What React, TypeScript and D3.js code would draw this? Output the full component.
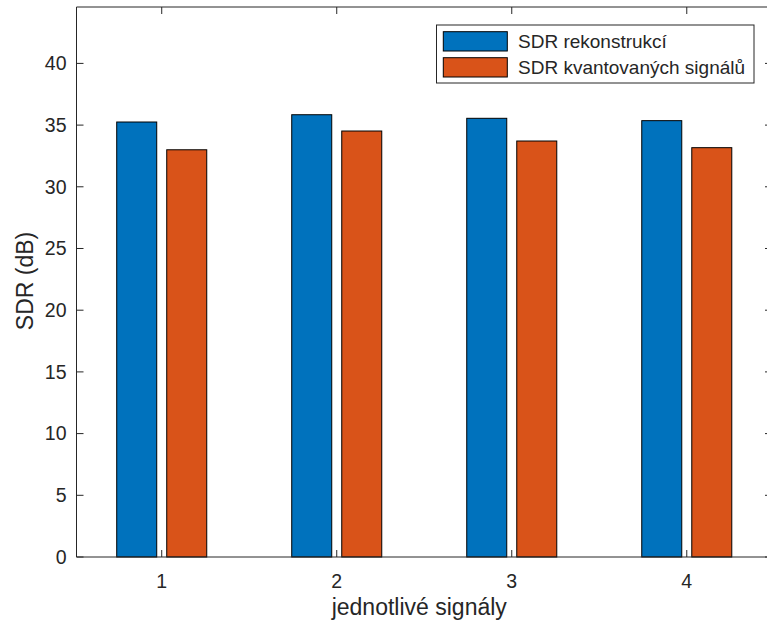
import * as d3 from "d3";
import React, { useRef, useEffect } from "react";

const width = 767;
const height = 628;

// plot box (right edge runs slightly past the picture, as in the source)
const box = { left: 76.5, right: 772, top: 7, bottom: 557 };

const signals = [1, 2, 3, 4];
const seriesNames = ["SDR rekonstrukcí", "SDR kvantovaných signálů"];
const sdrReconstruction = [35.25, 35.84, 35.55, 35.36];
const sdrQuantized = [33.0, 34.52, 33.71, 33.17];
const yTicks = [0, 5, 10, 15, 20, 25, 30, 35, 40];
const colors = ["#0072BD", "#D95319"];

const font = "'Liberation Sans', Arial, Helvetica, sans-serif";
const ink = "#262626";

const App = () => {
  const svgRef = useRef<SVGSVGElement>(null);

  useEffect(() => {
    const svg = d3.select(svgRef.current);
    svg.selectAll("*").remove();

    const x = d3.scaleLinear().domain([0.513, 4.487]).range([box.left, box.right]);
    const y = d3.scaleLinear().domain([0, 44.57]).range([box.bottom, box.top]);

    const barW = 0.2286; // in x units
    const offsets = [-0.1429, 0.1429];
    const series = [sdrReconstruction, sdrQuantized];

    // bars
    const bars = svg.append("g");
    series.forEach((vals, s) => {
      bars
        .selectAll(`.bar-${s}`)
        .data(vals)
        .join("rect")
        .attr("class", `bar-${s}`)
        .attr("x", (_, i) => x(signals[i] + offsets[s] - barW / 2))
        .attr("y", (d) => y(d))
        .attr("width", x(barW) - x(0))
        .attr("height", (d) => y(0) - y(d))
        .attr("fill", colors[s])
        .attr("stroke", "#000")
        .attr("stroke-width", 1);
    });

    // box lines
    const axes = svg.append("g").attr("stroke", ink).attr("fill", "none");
    axes.append("line").attr("x1", box.left).attr("x2", box.right).attr("y1", box.bottom).attr("y2", box.bottom);
    axes.append("line").attr("x1", box.left).attr("x2", box.right).attr("y1", box.top).attr("y2", box.top);
    axes.append("line").attr("x1", box.left).attr("x2", box.left).attr("y1", box.top).attr("y2", box.bottom);
    axes.append("line").attr("x1", box.right).attr("x2", box.right).attr("y1", box.top).attr("y2", box.bottom);

    const tickLen = 7;
    // y ticks (both sides, inward)
    yTicks.forEach((t) => {
      axes.append("line").attr("x1", box.left).attr("x2", box.left + tickLen).attr("y1", y(t)).attr("y2", y(t));
      axes.append("line").attr("x1", box.right).attr("x2", box.right - tickLen).attr("y1", y(t)).attr("y2", y(t));
    });
    // x ticks (top and bottom, inward)
    signals.forEach((t) => {
      axes.append("line").attr("x1", x(t)).attr("x2", x(t)).attr("y1", box.bottom).attr("y2", box.bottom - tickLen);
      axes.append("line").attr("x1", x(t)).attr("x2", x(t)).attr("y1", box.top).attr("y2", box.top + tickLen);
    });

    const labels = svg.append("g").attr("font-family", font).attr("fill", ink);

    labels
      .selectAll(".ytick")
      .data(yTicks)
      .join("text")
      .attr("class", "ytick")
      .attr("x", box.left - 10)
      .attr("y", (d) => y(d))
      .attr("dy", "0.35em")
      .attr("text-anchor", "end")
      .attr("font-size", 19.5)
      .text((d) => d);

    labels
      .selectAll(".xtick")
      .data(signals)
      .join("text")
      .attr("class", "xtick")
      .attr("x", (d) => x(d))
      .attr("y", 588)
      .attr("text-anchor", "middle")
      .attr("font-size", 19.5)
      .text((d) => d);

    labels
      .append("text")
      .attr("x", (box.left + box.right - 10) / 2)
      .attr("y", 615)
      .attr("text-anchor", "middle")
      .attr("font-size", 23)
      .text("jednotlivé signály");

    labels
      .append("text")
      .attr("transform", "translate(33, 281) rotate(-90)")
      .attr("text-anchor", "middle")
      .attr("font-size", 23)
      .text("SDR (dB)");

    // legend
    const legend = svg.append("g").attr("font-family", font);
    legend
      .append("rect")
      .attr("x", 436.5)
      .attr("y", 25)
      .attr("width", 317.5)
      .attr("height", 58)
      .attr("fill", "#fff")
      .attr("stroke", ink);
    seriesNames.forEach((name, s) => {
      const top = 31.7 + s * 26;
      legend
        .append("rect")
        .attr("x", 443.3)
        .attr("y", top)
        .attr("width", 64)
        .attr("height", 19.3)
        .attr("fill", colors[s])
        .attr("stroke", "#000");
      legend
        .append("text")
        .attr("x", 518)
        .attr("y", top + 9.7)
        .attr("dy", "0.35em")
        .attr("font-size", 19)
        .attr("fill", ink)
        .text(name);
    });
  }, []);

  return (
    <svg
      ref={svgRef}
      width={width}
      height={height}
      style={{ position: "absolute", left: 0, top: 0, background: "#fff" }}
    ></svg>
  );
};

export default App;
